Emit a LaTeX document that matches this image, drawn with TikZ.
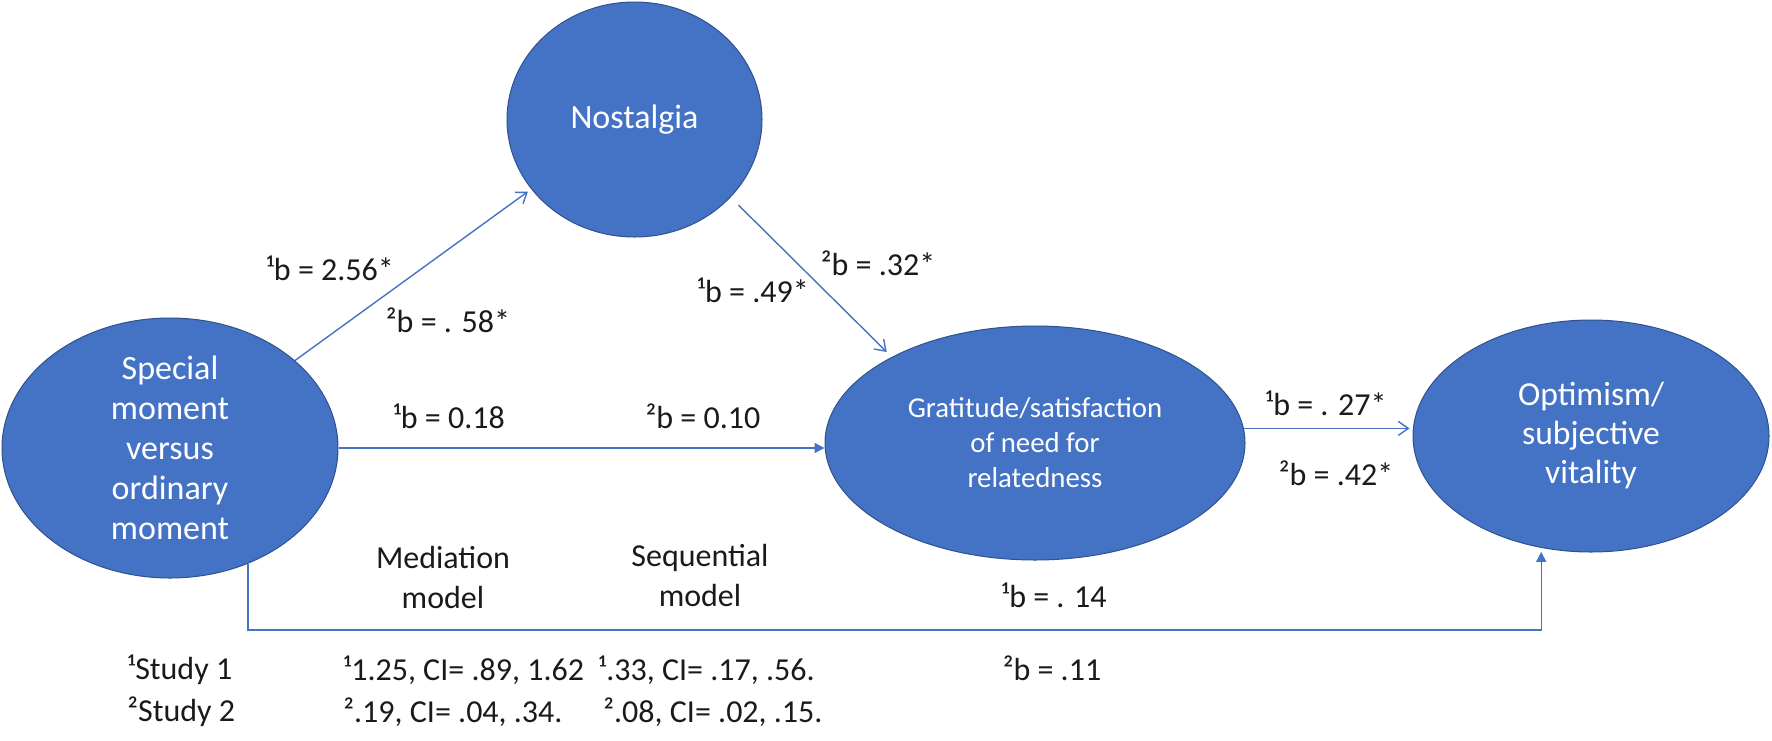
\documentclass[tikz,border=0pt]{standalone}
\usepackage{fontspec}
\setmainfont{Carlito}
\usetikzlibrary{arrows.meta,shapes.geometric,calc}
\definecolor{obl}{HTML}{4472C4}
\definecolor{obd}{HTML}{2F528F}
\definecolor{txt}{HTML}{1A1A1A}
\tikzset{
  var/.style={ellipse, fill=obl, draw=obd, line width=0.5pt, inner sep=0pt, text=white, align=center},
  conn/.style={draw=obl, line width=0.7pt},
  openarr/.style={conn, -{Straight Barb[length=5pt,width=7pt]}},
  fillarr/.style={conn, -{Triangle[length=5pt,width=5pt]}},
  lab/.style={text=txt, inner sep=0pt, font=\fontsize{16}{19}\selectfont},
  lablist/.style={lab, anchor=west}
}
\begin{document}
\begin{tikzpicture}[x=0.5pt,y=-0.5pt]
\useasboundingbox (0,0) rectangle (1772,740);
% variables
\node[var, minimum width=168pt, minimum height=115pt, font=\fontsize{17}{20}\selectfont] (sm) at (170,448) {Special\\moment\\versus\\ordinary\\moment};
\node[var, minimum width=127.5pt, minimum height=117.5pt, font=\fontsize{17}{20}\selectfont] (nost) at (634.5,119.5) {Nostalgia};
\node[var, minimum width=210pt, minimum height=117pt, font=\fontsize{14.4}{17.5}\selectfont] (mid) at (1035,443) {Gratitude/satisfaction\\of need for\\relatedness};
\node[var, minimum width=178pt, minimum height=116pt, font=\fontsize{16.8}{19.5}\selectfont] (opt) at (1591,436) {Optimism/\\subjective\\vitality};
% connectors
\draw[openarr, shorten >=2pt] (sm.35) -- (nost.-146);
\draw[openarr, shorten <=5.5pt, shorten >=3.5pt] (nost.-39) -- (mid.149);
\draw[fillarr] (sm.east) -- (sm.east -| mid.west);
\draw[openarr, shorten >=1.5pt] (mid.4) -- (mid.4 -| opt.west);
\coordinate (b2) at ($(opt.-114 |- 0,630)$);
\draw[fillarr, shorten >=2pt] (sm.-56) |- (b2) -- (opt.-114);
% path labels
\node[lab] (l1) at (330,268) {¹b = 2.56*};
\node[lab] (l2) at (448,320) {²b = . 58*};
\node[lab] (l3) at (753,290) {¹b = .49*};
\node[lab] (l4) at (878,263) {²b = .32*};
\node[lab] (l5) at (449,416) {¹b = 0.18};
\node[lab] (l6) at (703,416) {²b = 0.10};
\node[lab] (l7) at (1326,403) {¹b = . 27*};
\node[lab] (l8) at (1336,473) {²b = .42*};
\node[lab] (l9) at (1054,595) {¹b = . 14};
\node[lab] (l10) at (1052,668) {²b = .11};
\node[lab, align=center, font=\fontsize{16}{20}\selectfont] (med) at (443,577) {Mediation\\model};
\node[lab, align=center, font=\fontsize{16}{20}\selectfont] (seq) at (700,575) {Sequential\\model};
% legend rows
\node[lablist] (s1) at (127,670) {¹Study 1};
\node[lablist] (s2) at (127,712) {²Study 2};
\node[lablist] (m1) at (343,670) {¹1.25, CI= .89, 1.62};
\node[lablist] (m2) at (343,712) {².19, CI= .04, .34.};
\node[lablist] (q1) at (598,670) {¹.33, CI= .17, .56.};
\node[lablist] (q2) at (603,712) {².08, CI= .02, .15.};
\end{tikzpicture}
\end{document}
